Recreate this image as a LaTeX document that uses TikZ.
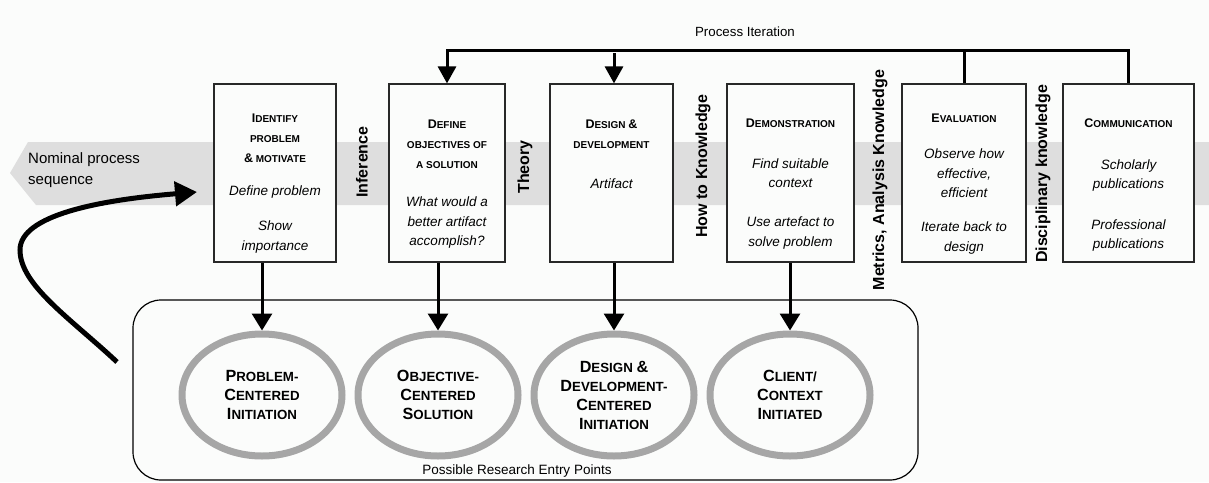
\documentclass[tikz,border=0pt]{standalone}
\usepackage{fontspec}
\setmainfont{Liberation Sans}
\usetikzlibrary{shapes.geometric,arrows.meta}
\definecolor{bandgray}{RGB}{222,222,222}
\definecolor{ellgray}{RGB}{166,166,166}
\definecolor{bgc}{RGB}{251,252,251}
\definecolor{boxline}{RGB}{40,40,40}
\newcommand\hsc[2]{{\fontsize{12.5}{20}\selectfont #1}#2}
\newcommand\esc[2]{{\fontsize{16.2}{19}\selectfont #1}#2}
\begin{document}
\begin{tikzpicture}[x=1pt,y=-1pt,
  stagebox/.style={draw=boxline,line width=1.2pt,fill=bgc,minimum width=122pt,minimum height=178pt,inner sep=0pt},
  head/.style={align=center,font=\fontsize{10}{20}\selectfont\bfseries,inner sep=0pt},
  desc/.style={align=center,font=\fontsize{13.5}{19.5}\selectfont\itshape,inner sep=0pt},
  vlab/.style={rotate=90,font=\fontsize{16}{18}\selectfont\bfseries,inner sep=0pt},
  entry/.style={ellipse,draw=ellgray,line width=7pt,minimum width=160pt,minimum height=122pt,inner sep=0pt,align=center,font=\fontsize{13.3}{19}\selectfont\bfseries},
  bigarrow/.style={line width=3pt,-{Triangle[width=18pt,length=17pt]}},
  plain/.style={line width=3pt}
]
\useasboundingbox (0,0) rectangle (1209,482);
\fill[bgc] (0,0) rectangle (1209,482);
% band
\fill[bandgray] (28,142) -- (1209,142) -- (1209,205) -- (36,205) -- (10,173) -- cycle;
\node[anchor=west,align=left,font=\fontsize{15}{21}\selectfont,inner sep=0pt] (nom) at (28,170.5) {Nominal process\\sequence};
% stage boxes
\node[stagebox] (b1) at (275,173) {};
\node[stagebox,minimum width=116pt] (b2) at (447,173) {};
\node[stagebox,minimum width=123pt] (b3) at (611.5,173) {};
\node[stagebox,minimum width=127pt] (b4) at (790.5,173) {};
\node[stagebox,minimum width=124pt] (b5) at (964,173) {};
\node[stagebox,minimum width=131pt] (b6) at (1128.5,173) {};
% box texts
\node[head] (h1) at (275,138) {\hsc{I}{DENTIFY}\\PROBLEM\\\hsc{\&}{ MOTIVATE}};
\node[desc] (d1a) at (275,192) {Define problem};
\node[desc] (d1b) at (275,237) {Show\\importance};
\node[head] (h2) at (447,144) {\hsc{D}{EFINE}\\OBJECTIVES OF\\A SOLUTION};
\node[desc] (d2a) at (447,223) {What would a\\better artifact\\accomplish?};
\node[head] (h3) at (611.5,134) {\hsc{D}{ESIGN} \hsc{\&}{}\\DEVELOPMENT};
\node[desc] (d3a) at (611.5,184) {Artifact};
\node[head] (h4) at (790.5,123) {\hsc{D}{EMONSTRATION}};
\node[desc] (d4a) at (790.5,173) {Find suitable\\context};
\node[desc] (d4b) at (790.5,233) {Use artefact to\\solve problem};
\node[head] (h5) at (964,118) {\hsc{E}{VALUATION}};
\node[desc] (d5a) at (964,173.5) {Observe how\\effective,\\efficient};
\node[desc] (d5b) at (964,238) {Iterate back to\\design};
\node[head] (h6) at (1128.5,123) {\hsc{C}{OMMUNICATION}};
\node[desc] (d6a) at (1128.5,175.5) {Scholarly\\publications};
\node[desc] (d6b) at (1128.5,235.5) {Professional\\publications};
% vertical labels
\node[vlab] (v1) at (362,162) {Inference};
\node[vlab] (v2) at (525,167) {Theory};
\node[vlab] (v3) at (703,166) {How to Knowledge};
\node[vlab] (v4) at (880,180) {Metrics, Analysis Knowledge};
\node[vlab] (v5) at (1043,174) {Disciplinary knowledge};
% process iteration
\coordinate (top) at (0,50);
\node[font=\fontsize{13.3}{15}\selectfont,inner sep=0pt] (pi) at (745,32) {Process Iteration};
\draw[plain,line cap=rect] (b2.north |- top) -- (b6.north |- top);
\draw[plain] (b6.north |- top) -- (b6.north);
\draw[plain] (b5.north |- top) -- (b5.north);
\draw[bigarrow] (b2.north |- top) -- (b2.north);
\draw[bigarrow] ([xshift=2.5pt,yshift=-3pt]b3.north |- top) -- ([xshift=2.5pt]b3.north);
% entry region
\draw[line width=1.2pt,rounded corners=28pt] (133,300) rectangle (918,480);
\node[font=\fontsize{13.5}{15}\selectfont,inner sep=0pt] (pr) at (517,471) {Possible Research Entry Points};
\node[entry] (e1) at (262,395) {\esc{P}{ROBLEM-}\\\esc{C}{ENTERED}\\\esc{I}{NITIATION}};
\node[entry] (e2) at (438,395) {\esc{O}{BJECTIVE-}\\\esc{C}{ENTERED}\\\esc{S}{OLUTION}};
\node[entry] (e3) at (614,395) {\esc{D}{ESIGN} \esc{\&}{}\\\esc{D}{EVELOPMENT-}\\\esc{C}{ENTERED}\\\esc{I}{NITIATION}};
\node[entry] (e4) at (790,395) {\esc{C}{LIENT/}\\\esc{C}{ONTEXT}\\\esc{I}{NITIATED}};
\draw[line width=3pt,-{Triangle[width=20pt,length=17pt]}] (e1.north |- b1.south) -- (e1.north);
\draw[line width=3pt,-{Triangle[width=20pt,length=17pt]}] (e2.north |- b2.south) -- (e2.north);
\draw[line width=3pt,-{Triangle[width=20pt,length=17pt]}] (e3.north |- b3.south) -- (e3.north);
\draw[line width=3pt,-{Triangle[width=20pt,length=17pt]}] (e4.north |- b4.south) -- (e4.north);
% curved entry arrow
\coordinate (cs) at (117,362);
\coordinate (ct) at (197,192);
\draw[line width=5pt,-{Triangle[width=24pt,length=22pt]}] (cs) .. controls (70,318) and (20,285) .. (20,250) .. controls (20,215) and (100,200) .. (ct);
\end{tikzpicture}
\end{document}
